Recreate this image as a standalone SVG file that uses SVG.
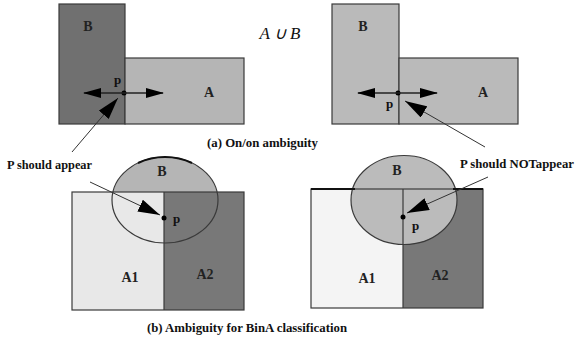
<svg xmlns="http://www.w3.org/2000/svg" width="577" height="339" viewBox="0 0 577 339">
<style>
.sh{stroke:#3a3a3a;stroke-width:1.2}
.t{font-family:'Liberation Serif','Times New Roman',serif;font-weight:bold;font-size:13px;fill:#111}
.lb{font-family:'Liberation Serif','Times New Roman',serif;font-weight:bold;font-size:14px;fill:#222;text-anchor:middle}
.ptr{stroke:#333;stroke-width:1;fill:none}
.dbl{stroke:#222;stroke-width:1.5;fill:none}
</style>
<defs>
<marker id="h" markerUnits="userSpaceOnUse" markerWidth="18" markerHeight="12" refX="17" refY="5" orient="auto-start-reverse" viewBox="0 0 18 10">
<path d="M0,0 L18,5 L0,10 z" fill="#000"/>
</marker>
<marker id="hp" markerUnits="userSpaceOnUse" markerWidth="22" markerHeight="13" refX="22" refY="6.5" orient="auto" viewBox="0 0 22 13">
<path d="M0,0 L22,6.5 L0,13 z" fill="#000"/>
</marker>
</defs>

<g id="panel-a-left">
<rect x="59" y="4" width="66" height="120" fill="#707070" class="sh"/>
<rect x="125" y="58" width="119" height="66" fill="#b5b5b5" class="sh"/>
<text class="lb" x="88" y="31">B</text>
<text class="lb" x="209" y="97">A</text>
<text class="t" x="114" y="84">p</text>
<circle cx="124" cy="93" r="2.5" fill="#000"/>
</g>

<g id="panel-a-right">
<rect x="332" y="4" width="67" height="120" fill="#bababa" class="sh"/>
<rect x="399" y="58" width="119" height="66" fill="#bababa" class="sh"/>
<text class="lb" x="363" y="31">B</text>
<text class="lb" x="483" y="97">A</text>
<text class="t" x="386" y="108">p</text>
<circle cx="398" cy="93" r="2.5" fill="#000"/>
</g>

<g id="panel-b-left">
<ellipse cx="165" cy="200" rx="53" ry="43" fill="#b5b5b5"/>
<rect x="72" y="192" width="92" height="118" fill="#e8e8e8"/>
<rect x="164" y="192" width="80" height="118" fill="#787878"/>
<rect x="72" y="192" width="172" height="118" fill="none" class="sh"/>
<line x1="164" y1="192" x2="164" y2="310" class="sh"/>
<ellipse cx="165" cy="200" rx="53" ry="43" fill="none" stroke="#3a3a3a" stroke-width="1.2"/>
<path d="M138,163 A53,43 0 0 1 192,163" fill="none" stroke="#111" stroke-width="2"/>
<text class="lb" x="162" y="176">B</text>
<text class="lb" x="130" y="282">A1</text>
<text class="lb" x="205" y="279">A2</text>
<text class="t" x="173" y="223">p</text>
<circle cx="164" cy="218" r="2.5" fill="#000"/>
</g>

<g id="panel-b-right">
<rect x="311" y="189" width="92" height="119" fill="#f4f4f4"/>
<rect x="403" y="189" width="80" height="119" fill="#787878"/>
<rect x="311" y="189" width="172" height="119" fill="none" class="sh"/>
<ellipse cx="404" cy="200" rx="53" ry="44.5" fill="#bbbbbb" stroke="#3a3a3a" stroke-width="1.2"/>
<line x1="311" y1="189" x2="483" y2="189" stroke="#222" stroke-width="1.2"/>
<line x1="311" y1="189" x2="355" y2="189" stroke="#111" stroke-width="2"/>
<line x1="453" y1="189" x2="483" y2="189" stroke="#111" stroke-width="2"/>
<line x1="403" y1="189" x2="403" y2="308" class="sh"/>
<text class="lb" x="397" y="175">B</text>
<text class="lb" x="367" y="283">A1</text>
<text class="lb" x="440" y="280">A2</text>
<text class="t" x="412" y="230">p</text>
<circle cx="403" cy="217" r="2.5" fill="#000"/>
</g>

<g id="labels">
<text x="280" y="39" font-family="'Liberation Serif',serif" font-style="italic" font-size="17" text-anchor="middle" fill="#111">A ∪ B</text>
<text class="t" x="207" y="147" textLength="111" lengthAdjust="spacingAndGlyphs">(a) On/on ambiguity</text>
<text class="t" x="7" y="169" textLength="85" lengthAdjust="spacingAndGlyphs">P should appear</text>
<text class="t" x="460" y="168" textLength="114" lengthAdjust="spacingAndGlyphs">P should NOTappear</text>
<text class="t" x="147" y="332" textLength="200" lengthAdjust="spacingAndGlyphs">(b) Ambiguity for BinA classification</text>
</g>

<g id="connectors">
<line x1="84" y1="93" x2="163" y2="93" class="dbl" marker-start="url(#h)" marker-end="url(#h)"/>
<line x1="358" y1="93" x2="437" y2="93" class="dbl" marker-start="url(#h)" marker-end="url(#h)"/>
<line x1="72" y1="152" x2="118" y2="98" class="ptr" marker-end="url(#hp)"/>
<line x1="485" y1="147" x2="405" y2="101" class="ptr" marker-end="url(#hp)"/>
<line x1="90" y1="182" x2="160" y2="215" class="ptr" marker-end="url(#hp)"/>
<line x1="488" y1="177" x2="407" y2="213" class="ptr" marker-end="url(#hp)"/>
</g>
</svg>
